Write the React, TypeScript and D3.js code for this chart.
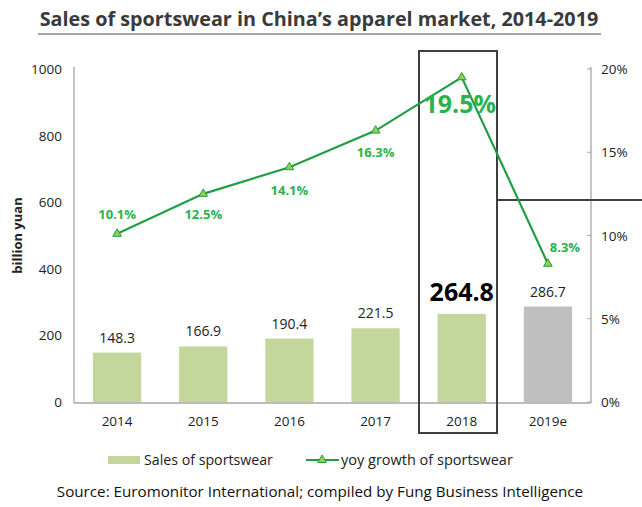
import React from "react";
import * as d3 from "d3";

const categories = ["2014", "2015", "2016", "2017", "2018", "2019e"];
const sales = [148.3, 166.9, 190.4, 221.5, 264.8, 286.7];
const growth = [10.1, 12.5, 14.1, 16.3, 19.5, 8.3];
const leftTicks = [0, 200, 400, 600, 800, 1000];
const rightTicks = [0, 5, 10, 15, 20];

const W = 642, H = 507;
const left = 74, right = 591, top = 69, bottom = 402;
const font = "'Open Sans', sans-serif";

export default function App() {
  const x = d3.scaleBand<string>().domain(categories).range([left, right]).paddingInner(0.44).paddingOuter(0.22);
  const yL = d3.scaleLinear().domain([0, 1000]).range([bottom, top]);
  const yR = d3.scaleLinear().domain([0, 20]).range([bottom, top]);
  const cx = (c: string) => (x(c) as number) + x.bandwidth() / 2;
  const line = d3.line<number>().x((_, i) => cx(categories[i])).y((d) => yR(d));
  const tri = d3.symbol().type(d3.symbolTriangle).size(32)() as string;

  const growthOffsets = [[0, -15], [0, 25], [0, 28], [0, 26], [-2, 36], [17, -12]];
  const green = "#1f9e45";
  const labelGreen = "#2bb24c";

  return (
    <svg width={W} height={H} style={{ position: "absolute", left: 0, top: 0, background: "#fff" }} fontFamily={font}>
      {/* Title */}
      <text x={319} y={26} textAnchor="middle" fontSize={19.8} fontWeight={700} fill="#3a3a3a">
        Sales of sportswear in China’s apparel market, 2014-2019
      </text>
      <line x1={38} x2={601} y1={34} y2={34} stroke="#888" strokeWidth={1.5} />

      {/* Axes */}
      <line x1={left} x2={left} y1={top - 2} y2={bottom + 1} stroke="#a6a6a6" strokeWidth={1.3} />
      <line x1={left} x2={right} y1={bottom + 1} y2={bottom + 1} stroke="#a6a6a6" strokeWidth={1.3} />
      <line x1={right} x2={right} y1={top - 2} y2={bottom + 1} stroke="#a6a6a6" strokeWidth={1.3} />
      {leftTicks.map((t) => (
        <text key={t} x={left - 12} y={yL(t) + 5} textAnchor="end" fontSize={13.5} fill="#222">{t}</text>
      ))}
      {rightTicks.map((t) => (
        <g key={t}>
          <line x1={right - 4} x2={right} y1={yR(t)} y2={yR(t)} stroke="#a6a6a6" />
          <text x={right + 10} y={yR(t) + 5} fontSize={13.5} fill="#222">{t}%</text>
        </g>
      ))}
      <text transform={`translate(22,${(top + bottom) / 2}) rotate(-90)`} textAnchor="middle" fontSize={13} fontWeight={700} fill="#222">
        billion yuan
      </text>

      {/* Bars */}
      {sales.map((v, i) => (
        <rect key={i} x={x(categories[i])} y={yL(v)} width={x.bandwidth()} height={bottom - yL(v)}
          fill={categories[i] === "2019e" ? "#bfbfbf" : "#c3d69b"} />
      ))}
      {sales.map((v, i) => {
        const big = categories[i] === "2018";
        return (
          <text key={i} x={cx(categories[i])} y={yL(v) - (big ? 13 : 10)} textAnchor="middle"
            fontSize={big ? 25 : 14} fontWeight={big ? 700 : 400} fill={big ? "#000" : "#222"}>
            {v.toFixed(1)}
          </text>
        );
      })}
      {categories.map((c) => (
        <text key={c} x={cx(c)} y={bottom + 24} textAnchor="middle" fontSize={13.5} fill="#222">{c}</text>
      ))}

      {/* Highlight boxes */}
      <rect x={419} y={51} width={78} height={382} fill="none" stroke="#3f3f3f" strokeWidth={2} />
      <line x1={497} x2={642} y1={200} y2={200} stroke="#3f3f3f" strokeWidth={2} />

      {/* Line */}
      <path d={line(growth) as string} fill="none" stroke={green} strokeWidth={2.2} />
      {growth.map((g, i) => (
        <path key={i} d={tri} transform={`translate(${cx(categories[i])},${yR(g)})`} fill="#92d050" stroke={green} strokeWidth={1} />
      ))}
      {growth.map((g, i) => {
        const big = categories[i] === "2018";
        return (
          <text key={i} x={cx(categories[i]) + growthOffsets[i][0]} y={yR(g) + growthOffsets[i][1]} textAnchor="middle"
            fontSize={big ? 25 : 13} fontWeight={700} fill={labelGreen}>
            {g.toFixed(1)}%
          </text>
        );
      })}

      {/* Legend */}
      <rect x={108} y={456} width={32} height={8} fill="#c3d69b" />
      <text x={144} y={465} fontSize={14.2} fill="#222">Sales of sportswear</text>
      <line x1={306} x2={339} y1={460} y2={460} stroke={green} strokeWidth={2.2} />
      <path d={tri} transform="translate(322,460)" fill="#92d050" stroke={green} strokeWidth={1} />
      <text x={341} y={465} fontSize={14.5} fill="#222">yoy growth of sportswear</text>

      <text x={320} y={497} textAnchor="middle" fontSize={15.2} fill="#111">
        Source: Euromonitor International; compiled by Fung Business Intelligence
      </text>
    </svg>
  );
}
